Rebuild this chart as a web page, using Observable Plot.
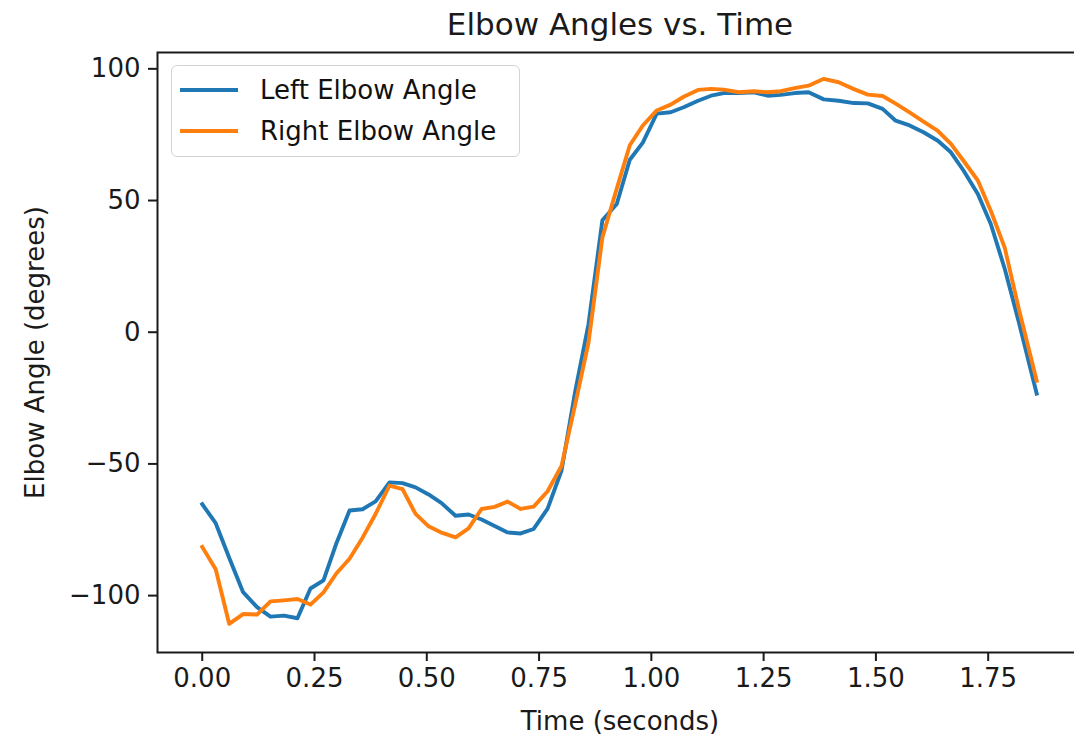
<!DOCTYPE html>
<html>
<head>
<meta charset="utf-8">
<script src="https://cdn.jsdelivr.net/npm/d3@7"></script>
<script src="https://cdn.jsdelivr.net/npm/@observablehq/plot@0.6"></script>
<style>
  html, body { margin: 0; padding: 0; background: #fff; overflow: hidden; }
  #wrap { position: relative; width: 1074px; height: 743px; overflow: hidden; font-family: "DejaVu Sans", sans-serif; color: #000; }
  #chart { position: absolute; left: 0; top: 0; width: 1100px; }
  #chart svg { max-width: none !important; }
  #legend { position: absolute; left: 171px; top: 65px; width: 349px; height: 92px; box-sizing: border-box;
            border: 1.5px solid #d3d3d3; border-radius: 6px; background: rgba(255,255,255,0.8); }
  .row { position: absolute; left: 0; height: 30px; width: 100%; }
  .sw { position: absolute; left: 8px; top: 13px; width: 58px; height: 4px; }
  .lab { position: absolute; left: 88px; top: 0; font-size: 26px; line-height: 30px; white-space: nowrap; color: #111; }
</style>
</head>
<body>
<div id="wrap">
  <div id="chart"></div>
  <div id="legend"></div>
</div>
<script>
// ---- data ----
const time = [0, 0.030, 0.060, 0.091, 0.122, 0.152, 0.182, 0.212, 0.241, 0.270,
  0.299, 0.328, 0.357, 0.386, 0.417, 0.446, 0.475, 0.504, 0.533, 0.564,
  0.593, 0.622, 0.651, 0.680, 0.709, 0.738, 0.769, 0.800, 0.831, 0.860,
  0.891, 0.923, 0.952, 0.981, 1.012, 1.043, 1.072, 1.104, 1.133, 1.161,
  1.195, 1.228, 1.259, 1.288, 1.319, 1.350, 1.384, 1.417, 1.451, 1.482,
  1.515, 1.544, 1.575, 1.606, 1.638, 1.667, 1.695, 1.727, 1.756, 1.787,
  1.818, 1.858];
const leftElbow = [-65.3, -72.5, -85.6, -98.7, -104.4, -108, -107.6, -108.6, -97.3, -94.2,
  -80, -67.7, -67.2, -64.2, -57, -57.3, -58.9, -61.6, -64.9, -69.7,
  -69.2, -71.1, -73.6, -76, -76.4, -74.7, -67, -52.5, -22, 3,
  42.5, 48.7, 65.5, 72, 83, 83.5, 85.4, 87.9, 89.8, 90.8,
  90.8, 91.1, 89.8, 90.1, 90.8, 91.1, 88.4, 87.9, 87, 86.9,
  84.8, 80.3, 78.5, 75.9, 72.7, 68.3, 61.4, 52.5, 41, 24,
  4, -23.3];
const rightElbow = [-81.5, -90, -110.7, -107, -107.2, -102.2, -101.8, -101.3, -103.4, -98.8,
  -91.5, -86, -78, -69, -58.2, -59.6, -69, -73.7, -76.1, -77.9,
  -74.5, -67.1, -66.3, -64.3, -67.1, -66.2, -60.4, -50.8, -27, -4,
  36, 54.5, 71, 78.5, 84.2, 86.4, 89.4, 92, 92.4, 92.1,
  91.1, 91.5, 91.1, 91.5, 92.7, 93.6, 96.2, 94.9, 92.3, 90.2,
  89.7, 86.8, 83.5, 80, 76.4, 71.5, 65.1, 57.6, 46, 32,
  9, -18.5];
const seriesNames = ["Left Elbow Angle", "Right Elbow Angle"];
const seriesColors = ["#1f77b4", "#ff7f0e"];
const xTicks = [0, 0.25, 0.5, 0.75, 1.0, 1.25, 1.5, 1.75];
const yTicks = [-100, -50, 0, 50, 100];
const titleText = "Elbow Angles vs. Time";
const xLabel = "Time (seconds)";
const yLabel = "Elbow Angle (degrees)";

// ---- build ----
const rows = time.map((t, i) => ({t, left: leftElbow[i], right: rightElbow[i]}));
const ink = "#1a1a1a";

const chart = Plot.plot({
  width: 1100,
  height: 743,
  marginLeft: 157,
  marginRight: 18,
  marginTop: 52,
  marginBottom: 91,
  style: {fontFamily: "DejaVu Sans, sans-serif", fontSize: "26px", color: "#000", background: "transparent", maxWidth: "none"},
  x: {domain: [-0.0996, 1.960]},
  y: {domain: [-121.6, 106.2]},
  marks: [
    Plot.line(rows, {x: "t", y: "left", stroke: seriesColors[0], strokeWidth: 3.9,
      strokeLinecap: "square", strokeLinejoin: "round"}),
    Plot.line(rows, {x: "t", y: "right", stroke: seriesColors[1], strokeWidth: 3.9,
      strokeLinecap: "square", strokeLinejoin: "round"}),
    Plot.frame({stroke: ink, strokeWidth: 2}),
    Plot.axisX({ticks: xTicks, tickFormat: d3.format(".2f"), tickSize: 9, tickPadding: 7,
      fontSize: 26, stroke: ink, strokeWidth: 2, fill: ink, label: null}),
    Plot.axisY({ticks: yTicks, tickFormat: d3.format("d"), tickSize: 9, tickPadding: 8,
      fontSize: 26, stroke: ink, strokeWidth: 2, fill: ink, label: null}),
    Plot.text([titleText], {frameAnchor: "top", dy: -27, lineAnchor: "middle", fontSize: 31, fill: ink}),
    Plot.text([xLabel], {frameAnchor: "bottom", dy: 69, lineAnchor: "middle", fontSize: 26, fill: ink}),
    Plot.text([yLabel], {frameAnchor: "left", dx: -122, rotate: -90, lineAnchor: "middle",
      textAnchor: "middle", fontSize: 26, fill: ink})
  ]
});
document.getElementById("chart").appendChild(chart);

// ---- legend ----
const legend = document.getElementById("legend");
seriesNames.forEach((name, i) => {
  const row = document.createElement("div");
  row.className = "row";
  row.style.top = (i === 0 ? 9 : 50) + "px";
  const sw = document.createElement("div");
  sw.className = "sw";
  sw.style.background = seriesColors[i];
  const lab = document.createElement("div");
  lab.className = "lab";
  lab.textContent = name;
  row.appendChild(sw);
  row.appendChild(lab);
  legend.appendChild(row);
});
</script>
</body>
</html>
